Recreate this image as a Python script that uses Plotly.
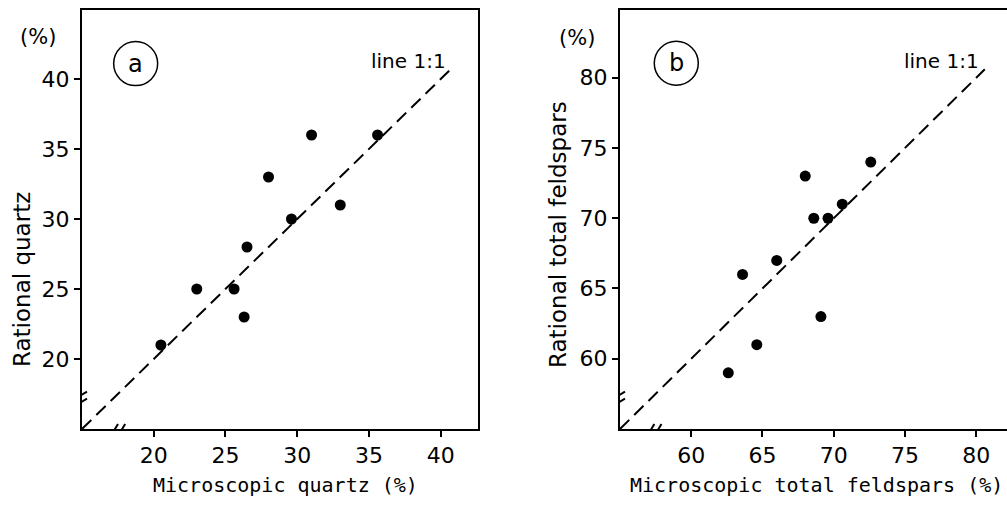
import plotly.graph_objects as go

# ---- data ----
micro_quartz = [20.5, 23.0, 25.6, 26.3, 26.5, 28.0, 29.6, 31.0, 33.0, 35.6]
rational_quartz = [21, 25, 25, 23, 28, 33, 30, 36, 31, 36]

micro_feld = [62.6, 63.6, 64.6, 66.0, 68.0, 68.6, 69.1, 69.6, 70.6, 72.6]
rational_feld = [59, 66, 61, 67, 73, 70, 63, 70, 71, 74]

line_a = [15, 40.6]
line_b = [55, 80.6]

ticks_a = [20, 25, 30, 35, 40]
ticks_b = [60, 65, 70, 75, 80]

W, H = 1007, 505
def px(x):
    return x / W
def py(y):
    return 1 - y / H

fig = go.Figure()

dash = "13px,7px"
# panel a
fig.add_trace(go.Scatter(x=line_a, y=line_a, mode="lines",
                         line=dict(color="black", width=2, dash=dash),
                         xaxis="x", yaxis="y", showlegend=False, hoverinfo="skip"))
fig.add_trace(go.Scatter(x=micro_quartz, y=rational_quartz, mode="markers",
                         marker=dict(color="black", size=11),
                         xaxis="x", yaxis="y", showlegend=False))
# panel b
fig.add_trace(go.Scatter(x=line_b, y=line_b, mode="lines",
                         line=dict(color="black", width=2, dash=dash),
                         xaxis="x2", yaxis="y2", showlegend=False, hoverinfo="skip"))
fig.add_trace(go.Scatter(x=micro_feld, y=rational_feld, mode="markers",
                         marker=dict(color="black", size=11),
                         xaxis="x2", yaxis="y2", showlegend=False))

tickfont = dict(family="DejaVu Sans", size=22, color="black")
axcommon = dict(showgrid=False, zeroline=False, showline=True, linecolor="black",
                linewidth=2, ticks="outside", ticklen=6, tickwidth=2, tickcolor="black",
                tickfont=tickfont)

ydom = [py(429), py(10)]
fig.update_layout(
    width=W, height=H,
    margin=dict(l=0, r=0, t=0, b=0),
    paper_bgcolor="white", plot_bgcolor="white",
    xaxis=dict(domain=[px(82), px(478)], range=[15, 42.6], tickvals=ticks_a,
               mirror=True, anchor="y", **axcommon),
    yaxis=dict(domain=ydom, range=[15, 44.93], tickvals=ticks_a,
               mirror=True, anchor="x", **axcommon),
    xaxis2=dict(domain=[px(620), 1.0], range=[55, 82.16], tickvals=ticks_b,
                mirror=True, anchor="y2", **axcommon),
    yaxis2=dict(domain=ydom, range=[55, 84.82], tickvals=ticks_b,
                mirror=False, anchor="x2", **axcommon),
)

shapes = []
def axis_breaks(xr, yr, x0, ygap, xgap):
    # y-axis break
    shapes.append(dict(type="line", xref=xr, yref=yr, x0=x0, x1=x0, y0=ygap[0], y1=ygap[1],
                       line=dict(color="white", width=6), layer="above"))
    for yv in ygap:
        shapes.append(dict(type="line", xref=xr, yref=yr, xsizemode="pixel", ysizemode="pixel",
                           xanchor=x0, yanchor=yv, x0=-5, x1=5, y0=-3, y1=3,
                           line=dict(color="black", width=2), layer="above"))
    # x-axis break
    shapes.append(dict(type="line", xref=xr, yref=yr, x0=xgap[0], x1=xgap[1], y0=x0, y1=x0,
                       line=dict(color="white", width=6), layer="above"))
    for xv in xgap:
        shapes.append(dict(type="line", xref=xr, yref=yr, xsizemode="pixel", ysizemode="pixel",
                           xanchor=xv, yanchor=x0, x0=-3, x1=3, y0=-5, y1=5,
                           line=dict(color="black", width=2), layer="above"))

axis_breaks("x", "y", 15, [16.95, 17.45], [17.3, 17.8])
axis_breaks("x2", "y2", 55, [56.95, 57.45], [57.2, 57.7])

# circles around panel letters
shapes.append(dict(type="circle", xref="x", yref="y", xsizemode="pixel", ysizemode="pixel",
                   xanchor=18.74, yanchor=41.1, x0=-22, x1=22, y0=-22, y1=22,
                   line=dict(color="black", width=1.5)))
shapes.append(dict(type="circle", xref="x2", yref="y2", xsizemode="pixel", ysizemode="pixel",
                   xanchor=58.95, yanchor=81.03, x0=-22, x1=22, y0=-22, y1=22,
                   line=dict(color="black", width=1.5)))
fig.update_layout(shapes=shapes)

sans = "DejaVu Sans"
mono = "DejaVu Sans Mono"
ann = []
def A(text, x, y, size, family=sans, angle=0, xref="paper", yref="paper"):
    ann.append(dict(text=text, x=x, y=y, xref=xref, yref=yref, showarrow=False,
                    xanchor="center", yanchor="middle", textangle=angle,
                    font=dict(family=family, size=size, color="black")))

A("(%)", px(37.5), py(37), 21)
A("(%)", px(577), py(38), 21)
A("Rational quartz", px(22), py(280), 23, angle=-90)
A("Rational total feldspars", px(558), py(235), 23, angle=-90)
A("Microscopic quartz (%)", px(285), py(485), 20, family=mono)
A("Microscopic total feldspars (%)", px(816), py(485), 20, family=mono)
A("line 1:1", px(408), py(61), 20)
A("line 1:1", px(941), py(61), 20)
A("a", 18.74, 41.1, 24, xref="x", yref="y")
A("b", 58.95, 81.03, 24, xref="x2", yref="y2")
fig.update_layout(annotations=ann)

fig.write_html("out.html", config={"displayModeBar": False},
               post_script="document.body.style.margin='0';document.body.style.padding='0';")
